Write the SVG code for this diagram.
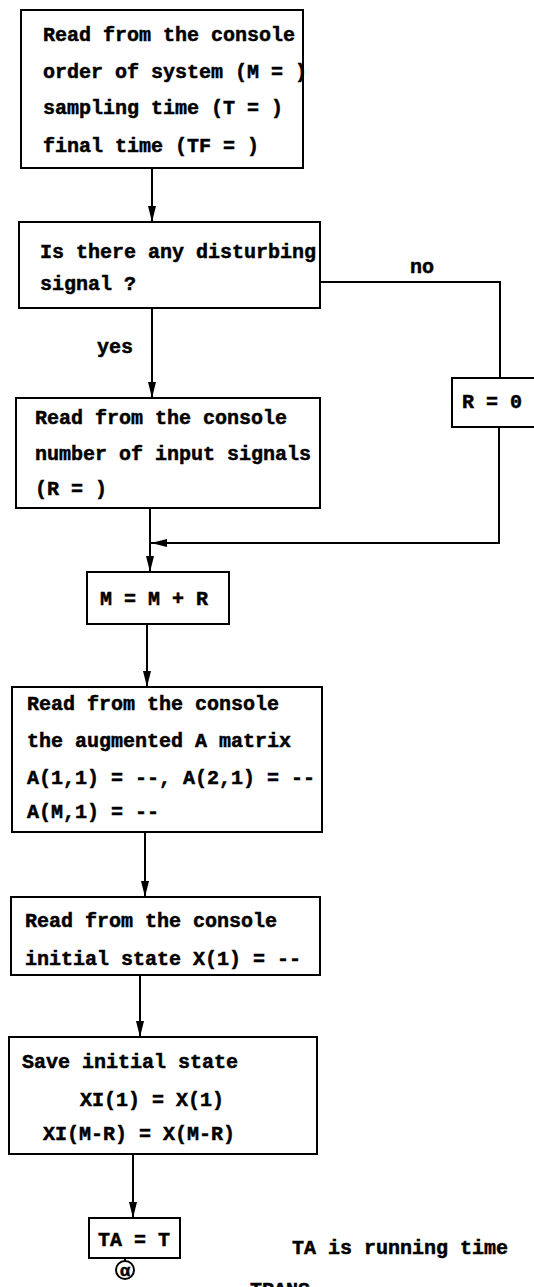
<svg xmlns="http://www.w3.org/2000/svg" width="534" height="1287" viewBox="0 0 534 1287">
<defs>
<style>
.box{fill:#fff;stroke:#000;stroke-width:2}
.ln{fill:none;stroke:#000;stroke-width:2}
text{font-family:"Liberation Mono","DejaVu Sans Mono",monospace;font-weight:bold;font-size:20px;fill:#000;stroke:#000;stroke-width:0.5}
</style>
<marker id="ah" viewBox="0 0 16 10" refX="16" refY="5" markerWidth="16" markerHeight="10" markerUnits="userSpaceOnUse" orient="auto">
<path d="M0,1 L16,5 L0,9 Z" fill="#000"/>
</marker>
</defs>
<rect width="534" height="1287" fill="#fff"/>
<g id="connectors">
<line class="ln" x1="152" y1="168" x2="152" y2="222" marker-end="url(#ah)"/>
<polyline class="ln" points="320,282 500,282 500,378"/>
<line class="ln" x1="152" y1="308" x2="152" y2="398" marker-end="url(#ah)"/>
<polyline class="ln" points="499,427 499,543 151,543" marker-end="url(#ah)"/>
<line class="ln" x1="150" y1="508" x2="150" y2="572" marker-end="url(#ah)"/>
<line class="ln" x1="147" y1="624" x2="147" y2="687" marker-end="url(#ah)"/>
<line class="ln" x1="145" y1="832" x2="145" y2="897" marker-end="url(#ah)"/>
<line class="ln" x1="140" y1="975" x2="140" y2="1037" marker-end="url(#ah)"/>
<line class="ln" x1="133" y1="1154" x2="133" y2="1218" marker-end="url(#ah)"/>
<line class="ln" x1="125" y1="1258" x2="125" y2="1261"/>
<text x="410" y="273">no</text>
<text x="97" y="353">yes</text>
</g>
<g id="n1">
<rect class="box" x="21" y="10" width="282" height="158"/>
<text x="43" y="41">Read from the console</text>
<text x="43" y="78">order of system (M = )</text>
<text x="43" y="114">sampling time (T = )</text>
<text x="43" y="152">final time (TF = )</text>
</g>
<g id="n2">
<rect class="box" x="19" y="222" width="301" height="86"/>
<text x="40" y="258">Is there any disturbing</text>
<text x="40" y="290">signal ?</text>
</g>
<g id="n3">
<rect class="box" x="452" y="378" width="100" height="49"/>
<text x="462" y="408">R = 0</text>
</g>
<g id="n4">
<rect class="box" x="16" y="398" width="304" height="110"/>
<text x="35" y="424">Read from the console</text>
<text x="35" y="460">number of input signals</text>
<text x="35" y="495">(R = )</text>
</g>
<g id="n5">
<rect class="box" x="87" y="572" width="142" height="52"/>
<text x="100" y="605">M = M + R</text>
</g>
<g id="n6">
<rect class="box" x="12" y="687" width="310" height="145"/>
<text x="27" y="710">Read from the console</text>
<text x="27" y="747">the augmented A matrix</text>
<text x="27" y="784">A(1,1) = --, A(2,1) = --</text>
<text x="27" y="818">A(M,1) = --</text>
</g>
<g id="n7">
<rect class="box" x="11" y="897" width="309" height="78"/>
<text x="25" y="927">Read from the console</text>
<text x="25" y="965">initial state X(1) = --</text>
</g>
<g id="n8">
<rect class="box" x="9" y="1037" width="308" height="117"/>
<text x="22" y="1068">Save initial state</text>
<text x="80" y="1106">XI(1) = X(1)</text>
<text x="43" y="1140">XI(M-R) = X(M-R)</text>
</g>
<g id="n9">
<rect class="box" x="89" y="1218" width="91" height="40"/>
<text x="98" y="1246">TA = T</text>
</g>
<g id="n10">
<circle cx="125" cy="1270" r="9" fill="#fff" stroke="#000" stroke-width="2"/>
<text x="125" y="1276" text-anchor="middle" style="font-size:17px">α</text>
</g>
<g id="notes">
<text x="292" y="1254">TA is running time</text>
<text x="250" y="1296">TRANS.</text>
</g>
</svg>
